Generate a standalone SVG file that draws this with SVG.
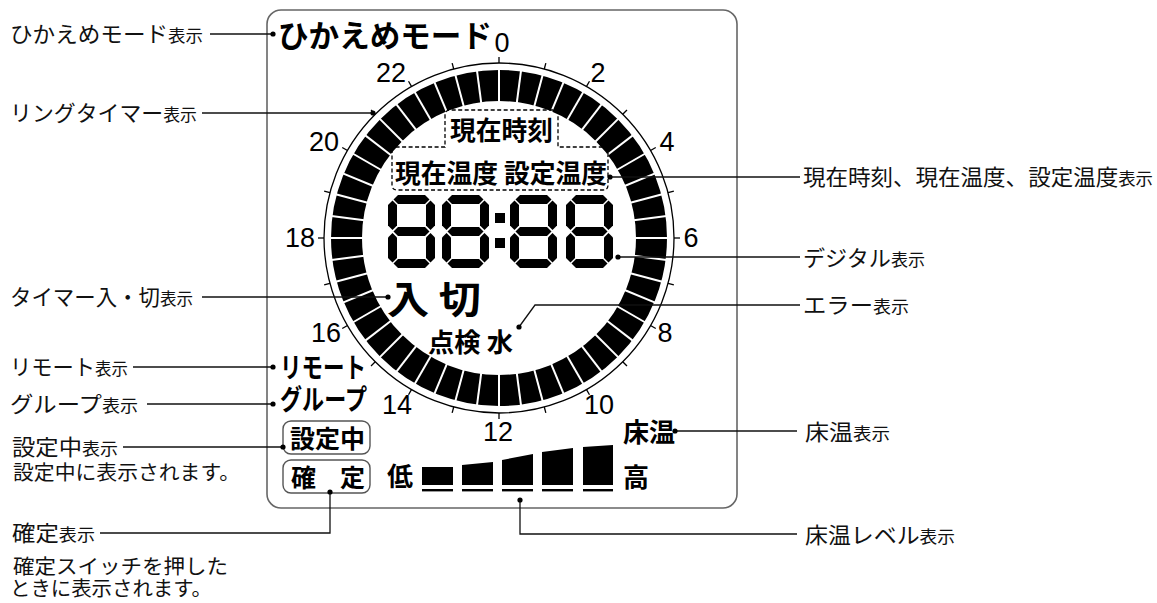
<svg xmlns="http://www.w3.org/2000/svg" xmlns:xlink="http://www.w3.org/1999/xlink" width="1157" height="603" viewBox="0 0 1157 603">
<style>
.jp{font-family:"Noto Sans CJK JP","Noto Sans CJK SC",sans-serif;fill:#111}
.c{dominant-baseline:central}
.lb{font-size:22px}
.sm{font-size:17px}
.nt{font-size:20px}
.pb{font-weight:700;fill:#000}
.num{font-family:"Liberation Sans",Arial,sans-serif;font-size:27px;text-anchor:middle;dominant-baseline:central;fill:#000}
.cn{stroke:#111;stroke-width:1.3;fill:none}
.dot{fill:#000}
.box{fill:none;stroke:#555;stroke-width:1.4}
.seg{fill:#000}
</style>
<defs>
<line id="dv" x1="0" y1="-134" x2="0" y2="-171" stroke="#fff" stroke-width="2"/>
<line id="tk" x1="0" y1="-175" x2="0" y2="-181" stroke="#000" stroke-width="1.3"/>
<g id="d8" class="seg">
<polygon points="5.5,4.5 10,0 37,0 41.5,4.5 37,9 10,9"/>
<polygon points="5.5,36.5 10,32 37,32 41.5,36.5 37,41 10,41"/>
<polygon points="5.5,68.5 10,64 37,64 41.5,68.5 37,73 10,73"/>
<polygon points="4.5,5.5 9,10 9,30.5 4.5,35 0,30.5 0,10"/>
<polygon points="42.5,5.5 47,10 47,30.5 42.5,35 38,30.5 38,10"/>
<polygon points="4.5,38 9,42.5 9,63 4.5,67.5 0,63 0,42.5"/>
<polygon points="42.5,38 47,42.5 47,63 42.5,67.5 38,63 38,42.5"/>
</g>
</defs>
<rect width="1157" height="603" fill="#fff"/>

<g id="panel">
<rect x="267" y="10" width="470" height="498" rx="14" fill="none" stroke="#666" stroke-width="1.6"/>
</g>

<g id="ring-timer">
<circle cx="499" cy="238" r="152.5" fill="none" stroke="#000" stroke-width="31"/>
<circle cx="499" cy="238" r="175" fill="none" stroke="#000" stroke-width="1.3"/>
<g transform="translate(499,238)">
<use xlink:href="#dv" transform="rotate(0)"/><use xlink:href="#dv" transform="rotate(7.5)"/><use xlink:href="#dv" transform="rotate(15)"/><use xlink:href="#dv" transform="rotate(22.5)"/>
<use xlink:href="#dv" transform="rotate(30)"/><use xlink:href="#dv" transform="rotate(37.5)"/><use xlink:href="#dv" transform="rotate(45)"/><use xlink:href="#dv" transform="rotate(52.5)"/>
<use xlink:href="#dv" transform="rotate(60)"/><use xlink:href="#dv" transform="rotate(67.5)"/><use xlink:href="#dv" transform="rotate(75)"/><use xlink:href="#dv" transform="rotate(82.5)"/>
<use xlink:href="#dv" transform="rotate(90)"/><use xlink:href="#dv" transform="rotate(97.5)"/><use xlink:href="#dv" transform="rotate(105)"/><use xlink:href="#dv" transform="rotate(112.5)"/>
<use xlink:href="#dv" transform="rotate(120)"/><use xlink:href="#dv" transform="rotate(127.5)"/><use xlink:href="#dv" transform="rotate(135)"/><use xlink:href="#dv" transform="rotate(142.5)"/>
<use xlink:href="#dv" transform="rotate(150)"/><use xlink:href="#dv" transform="rotate(157.5)"/><use xlink:href="#dv" transform="rotate(165)"/><use xlink:href="#dv" transform="rotate(172.5)"/>
<use xlink:href="#dv" transform="rotate(180)"/><use xlink:href="#dv" transform="rotate(187.5)"/><use xlink:href="#dv" transform="rotate(195)"/><use xlink:href="#dv" transform="rotate(202.5)"/>
<use xlink:href="#dv" transform="rotate(210)"/><use xlink:href="#dv" transform="rotate(217.5)"/><use xlink:href="#dv" transform="rotate(225)"/><use xlink:href="#dv" transform="rotate(232.5)"/>
<use xlink:href="#dv" transform="rotate(240)"/><use xlink:href="#dv" transform="rotate(247.5)"/><use xlink:href="#dv" transform="rotate(255)"/><use xlink:href="#dv" transform="rotate(262.5)"/>
<use xlink:href="#dv" transform="rotate(270)"/><use xlink:href="#dv" transform="rotate(277.5)"/><use xlink:href="#dv" transform="rotate(285)"/><use xlink:href="#dv" transform="rotate(292.5)"/>
<use xlink:href="#dv" transform="rotate(300)"/><use xlink:href="#dv" transform="rotate(307.5)"/><use xlink:href="#dv" transform="rotate(315)"/><use xlink:href="#dv" transform="rotate(322.5)"/>
<use xlink:href="#dv" transform="rotate(330)"/><use xlink:href="#dv" transform="rotate(337.5)"/><use xlink:href="#dv" transform="rotate(345)"/><use xlink:href="#dv" transform="rotate(352.5)"/>
<use xlink:href="#tk" transform="rotate(0)"/><use xlink:href="#tk" transform="rotate(15)"/><use xlink:href="#tk" transform="rotate(30)"/><use xlink:href="#tk" transform="rotate(45)"/>
<use xlink:href="#tk" transform="rotate(60)"/><use xlink:href="#tk" transform="rotate(75)"/><use xlink:href="#tk" transform="rotate(90)"/><use xlink:href="#tk" transform="rotate(105)"/>
<use xlink:href="#tk" transform="rotate(120)"/><use xlink:href="#tk" transform="rotate(135)"/><use xlink:href="#tk" transform="rotate(150)"/><use xlink:href="#tk" transform="rotate(165)"/>
<use xlink:href="#tk" transform="rotate(180)"/><use xlink:href="#tk" transform="rotate(195)"/><use xlink:href="#tk" transform="rotate(210)"/><use xlink:href="#tk" transform="rotate(225)"/>
<use xlink:href="#tk" transform="rotate(240)"/><use xlink:href="#tk" transform="rotate(255)"/><use xlink:href="#tk" transform="rotate(270)"/><use xlink:href="#tk" transform="rotate(285)"/>
<use xlink:href="#tk" transform="rotate(300)"/><use xlink:href="#tk" transform="rotate(315)"/><use xlink:href="#tk" transform="rotate(330)"/><use xlink:href="#tk" transform="rotate(345)"/>
</g>
<text class="num" x="502" y="43">0</text>
<text class="num" x="598" y="73">2</text>
<text class="num" x="667" y="142">4</text>
<text class="num" x="691" y="238">6</text>
<text class="num" x="665" y="333">8</text>
<text class="num" x="599" y="405">10</text>
<text class="num" x="498" y="432">12</text>
<text class="num" x="397" y="405">14</text>
<text class="num" x="326" y="333">16</text>
<text class="num" x="300" y="238">18</text>
<text class="num" x="324" y="142">20</text>
<text class="num" x="391" y="73">22</text>
</g>

<g id="hikaeme-mode">
<text class="jp c pb" x="278" y="33" font-size="31" textLength="214" lengthAdjust="spacingAndGlyphs">ひかえめモード</text>
</g>

<g id="time-temp">
<path d="M392,152 Q392,147 397,147 H445 V115 Q445,110 450,110 H553 Q558,110 558,115 V147 H603 Q608,147 608,152 V185 Q608,190 603,190 H397 Q392,190 392,185 Z" fill="none" stroke="#000" stroke-width="1.3" stroke-dasharray="4 2.5"/>
<text class="jp c pb" x="450" y="128" font-size="26" textLength="103" lengthAdjust="spacingAndGlyphs">現在時刻</text>
<text class="jp c pb" x="395" y="171" font-size="26" textLength="212" lengthAdjust="spacingAndGlyphs">現在温度 設定温度</text>
</g>

<g id="digital">
<use xlink:href="#d8" x="388" y="195"/>
<use xlink:href="#d8" x="442" y="195"/>
<rect x="495" y="213" width="10" height="10" fill="#000"/>
<rect x="495" y="238" width="10" height="10" fill="#000"/>
<use xlink:href="#d8" x="510" y="195"/>
<use xlink:href="#d8" x="566" y="195"/>
</g>

<g id="timer-on-off">
<text class="jp c pb" x="387" y="296" font-size="38" textLength="94" lengthAdjust="spacingAndGlyphs">入 切</text>
</g>

<g id="error">
<text class="jp c pb" x="428" y="340" font-size="26" textLength="85" lengthAdjust="spacingAndGlyphs">点検 水</text>
</g>

<g id="remote">
<text class="jp c pb" x="280" y="366" font-size="28" textLength="86" lengthAdjust="spacingAndGlyphs">リモート</text>
</g>

<g id="group">
<text class="jp c pb" x="280" y="398" font-size="28" textLength="87" lengthAdjust="spacingAndGlyphs">グループ</text>
</g>

<g id="setting">
<rect class="box" x="283" y="421" width="87" height="33" rx="8"/>
<text class="jp c pb" x="290" y="437" font-size="25" textLength="75" lengthAdjust="spacingAndGlyphs">設定中</text>
</g>

<g id="confirm">
<rect class="box" x="283" y="460" width="87" height="33" rx="8"/>
<text class="jp c pb" x="291" y="476" font-size="25">確</text>
<text class="jp c pb" x="340" y="476" font-size="25">定</text>
</g>

<g id="floor-temp">
<text class="jp c pb" x="623" y="430" font-size="26" textLength="52" lengthAdjust="spacingAndGlyphs">床温</text>
</g>

<g id="floor-level">
<text class="jp c pb" x="387" y="474" font-size="26">低</text>
<polygon points="422,467 453,467 453,485 422,485" fill="#000"/>
<polygon points="462,465 493,462 493,485 462,485" fill="#000"/>
<polygon points="502,460 533,454 533,485 502,485" fill="#000"/>
<polygon points="542,452 573,448 573,485 542,485" fill="#000"/>
<polygon points="583,447 613,445 613,485 583,485" fill="#000"/>
<rect x="422" y="489" width="31" height="2.4" fill="#000"/>
<rect x="462" y="489" width="31" height="2.4" fill="#000"/>
<rect x="502" y="489" width="31" height="2.4" fill="#000"/>
<rect x="542" y="489" width="31" height="2.4" fill="#000"/>
<rect x="583" y="489" width="30" height="2.4" fill="#000"/>
<text class="jp c pb" x="623" y="475" font-size="26">高</text>
</g>

<g id="connectors">
<polyline class="cn" points="210,34 273,34"/>
<polyline class="cn" points="202,113 373,113"/>
<polyline class="cn" points="202,297 388,297"/>
<polyline class="cn" points="133,367 273,367"/>
<polyline class="cn" points="147,404 273,404"/>
<polyline class="cn" points="123,447 283,447"/>
<polyline class="cn" points="100,533 330,533 330,492"/>
<polyline class="cn" points="610,177 800,177"/>
<polyline class="cn" points="618,257 800,257"/>
<polyline class="cn" points="519,327 535,305 800,305"/>
<polyline class="cn" points="675,431 797,431"/>
<polyline class="cn" points="520,500 520,534 797,534"/>
<circle class="dot" cx="273" cy="34" r="2.6"/>
<circle class="dot" cx="373" cy="113" r="2.6"/>
<circle class="dot" cx="388" cy="297" r="2.6"/>
<circle class="dot" cx="273" cy="367" r="2.6"/>
<circle class="dot" cx="273" cy="404" r="2.6"/>
<circle class="dot" cx="283" cy="447" r="2.6"/>
<circle class="dot" cx="330" cy="492" r="2.6"/>
<circle class="dot" cx="610" cy="177" r="2.6"/>
<circle class="dot" cx="618" cy="257" r="2.6"/>
<circle class="dot" cx="519" cy="327" r="2.6"/>
<circle class="dot" cx="675" cy="431" r="2.6"/>
<circle class="dot" cx="520" cy="500" r="2.6"/>
</g>

<g id="left-labels">
<text class="jp lb" x="10" y="42" textLength="193" lengthAdjust="spacingAndGlyphs">ひかえめモード<tspan class="sm">表示</tspan></text>
<text class="jp lb" x="10" y="121" textLength="187" lengthAdjust="spacingAndGlyphs">リングタイマー<tspan class="sm">表示</tspan></text>
<text class="jp lb" x="10" y="305" textLength="183" lengthAdjust="spacingAndGlyphs">タイマー入・切<tspan class="sm">表示</tspan></text>
<text class="jp lb" x="10" y="375" textLength="118" lengthAdjust="spacingAndGlyphs">リモート<tspan class="sm">表示</tspan></text>
<text class="jp lb" x="10" y="412" textLength="128" lengthAdjust="spacingAndGlyphs">グループ<tspan class="sm">表示</tspan></text>
<text class="jp lb" x="12" y="455" textLength="106" lengthAdjust="spacingAndGlyphs">設定中<tspan class="sm">表示</tspan></text>
<text class="jp nt" x="13" y="480" textLength="227" lengthAdjust="spacingAndGlyphs">設定中に表示されます。</text>
<text class="jp lb" x="12" y="541" textLength="83" lengthAdjust="spacingAndGlyphs">確定<tspan class="sm">表示</tspan></text>
<text class="jp nt" x="13" y="574" textLength="215" lengthAdjust="spacingAndGlyphs">確定スイッチを押した</text>
<text class="jp nt" x="10" y="596" textLength="202" lengthAdjust="spacingAndGlyphs">ときに表示されます。</text>
</g>

<g id="right-labels">
<text class="jp lb" x="803" y="185" textLength="350" lengthAdjust="spacingAndGlyphs">現在時刻、現在温度、設定温度<tspan class="sm">表示</tspan></text>
<text class="jp lb" x="803" y="266" textLength="122" lengthAdjust="spacingAndGlyphs">デジタル<tspan class="sm">表示</tspan></text>
<text class="jp lb" x="803" y="313" textLength="106" lengthAdjust="spacingAndGlyphs">エラー<tspan class="sm">表示</tspan></text>
<text class="jp lb" x="805" y="440" textLength="85" lengthAdjust="spacingAndGlyphs">床温<tspan class="sm">表示</tspan></text>
<text class="jp lb" x="805" y="543" textLength="150" lengthAdjust="spacingAndGlyphs">床温レベル<tspan class="sm">表示</tspan></text>
</g>
</svg>
